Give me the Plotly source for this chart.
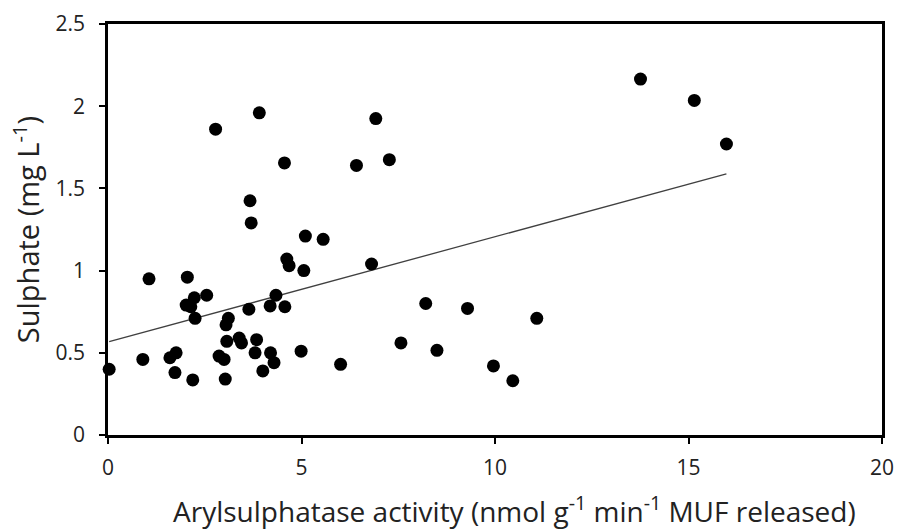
import numpy as np
import plotly.graph_objects as go

# Arylsulphatase activity (x) vs sulphate (y)
activity = [0.03, 0.90, 1.06, 1.60, 1.76, 1.73, 2.05, 2.02, 2.23, 2.14,
            2.25, 2.19, 2.55, 2.87, 3.00, 3.03, 3.07, 3.05, 3.11, 3.39,
            3.45, 3.64, 3.84, 3.80, 4.00, 4.19, 4.34, 4.20, 4.29, 4.57,
            4.62, 4.68, 5.06, 4.99, 6.01, 2.78, 3.91, 4.56, 6.42, 3.67,
            3.70, 5.10, 5.56, 6.92, 7.27, 6.81, 8.21, 9.29, 11.08, 7.57,
            8.50, 9.96, 10.46, 13.76, 15.15, 15.98]
sulphate = [0.40, 0.46, 0.95, 0.47, 0.50, 0.38, 0.96, 0.79, 0.835, 0.78,
            0.71, 0.335, 0.85, 0.48, 0.46, 0.34, 0.57, 0.67, 0.71, 0.59,
            0.56, 0.765, 0.58, 0.50, 0.39, 0.785, 0.85, 0.50, 0.44, 0.78,
            1.07, 1.03, 1.00, 0.51, 0.43, 1.86, 1.96, 1.655, 1.64, 1.425,
            1.29, 1.21, 1.19, 1.925, 1.675, 1.04, 0.80, 0.77, 0.71, 0.56,
            0.515, 0.42, 0.33, 2.165, 2.035, 1.77]

x_ticks = [0, 5, 10, 15, 20]
y_ticks = [0, 0.5, 1, 1.5, 2, 2.5]
y_labels = ["0", "0.5", "1", "1.5", "2", "2.5"]

# linear trendline (least squares), spanning the data like an Excel trendline
slope, intercept = np.polyfit(activity, sulphate, 1)
trend_x = np.array([min(activity), max(activity)])
trend_y = intercept + slope * trend_x

fig = go.Figure()
fig.add_trace(go.Scatter(x=trend_x, y=trend_y, mode="lines",
                         line=dict(color="#404040", width=1.3),
                         hoverinfo="skip", showlegend=False))
fig.add_trace(go.Scatter(x=activity, y=sulphate, mode="markers",
                         marker=dict(color="black", size=13),
                         showlegend=False, cliponaxis=False))

font_name = "Open Sans"
txt = "#222222"
fig.update_layout(
    width=907, height=530,
    margin=dict(l=108, r=25, t=24, b=95),
    paper_bgcolor="white", plot_bgcolor="white",
    font=dict(family=font_name, color=txt, size=22),
    xaxis=dict(
        range=[0, 20], tickvals=x_ticks, automargin=False,
        showgrid=False, zeroline=False,
        showline=True, linecolor="black", linewidth=2.5, mirror=True,
        ticks="outside", ticklen=6, tickwidth=2, tickcolor="black",
        ticklabelstandoff=6,
        tickfont=dict(size=21, color=txt),
    ),
    yaxis=dict(
        range=[0, 2.5], tickvals=y_ticks, ticktext=y_labels, automargin=False,
        showgrid=False, zeroline=False,
        showline=True, linecolor="black", linewidth=2.5, mirror=True,
        ticks="outside", ticklen=6, tickwidth=2, tickcolor="black",
        ticklabelstandoff=10,
        tickfont=dict(size=21, color=txt),
        title=dict(text="Sulphate (mg L<sup>-1</sup>)",
                   font=dict(size=29, color=txt), standoff=8),
    ),
)

# x title sits a little right of the plot centre in the original
fig.add_annotation(
    text="Arylsulphatase activity (nmol g<sup>-1</sup> min<sup>-1</sup> MUF released)",
    xref="paper", yref="paper", x=0.525, y=-0.182,
    xanchor="center", yanchor="middle", showarrow=False,
    font=dict(size=28, color=txt),
)

# the page body has a default margin; drop it so the figure sits at 0,0
fig.write_html("out.html", config={"displayModeBar": False},
               post_script="document.body.style.margin='0';")
